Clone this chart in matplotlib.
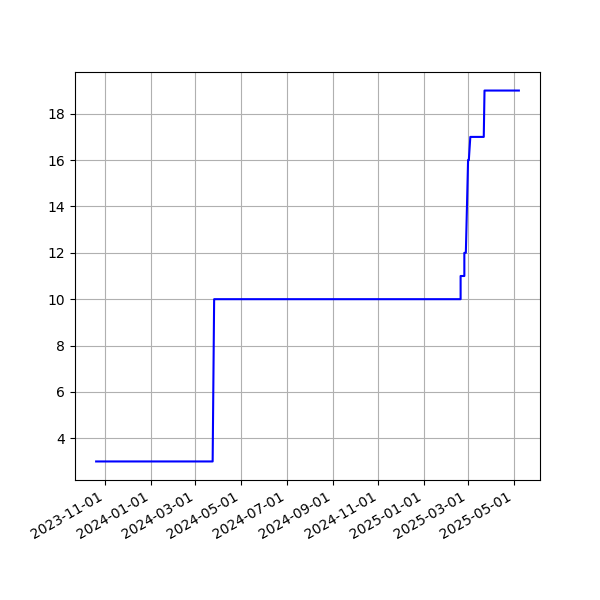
import matplotlib
matplotlib.use('Agg')
import matplotlib.pyplot as plt
import matplotlib.dates as mdates
import numpy as np

dates = ['2023-10-20', '2024-03-24', '2024-03-26', '2025-02-19', '2025-02-19',
         '2025-02-24', '2025-02-24', '2025-02-26', '2025-03-01', '2025-03-02',
         '2025-03-04', '2025-03-22', '2025-03-23', '2025-05-08']
counts = [3, 3, 10, 10, 11, 11, 12, 12, 16, 16, 17, 17, 19, 19]

x = np.array(dates, dtype='datetime64[D]')

fig, ax = plt.subplots(figsize=(6, 6), dpi=100)
ax.plot(x, counts, color='blue')
ax.xaxis.set_major_locator(mdates.MonthLocator(bymonth=[1, 3, 5, 7, 9, 11]))
ax.xaxis.set_major_formatter(mdates.DateFormatter('%Y-%m-%d'))
ax.grid(True)
fig.autofmt_xdate()
plt.savefig('out.png')
